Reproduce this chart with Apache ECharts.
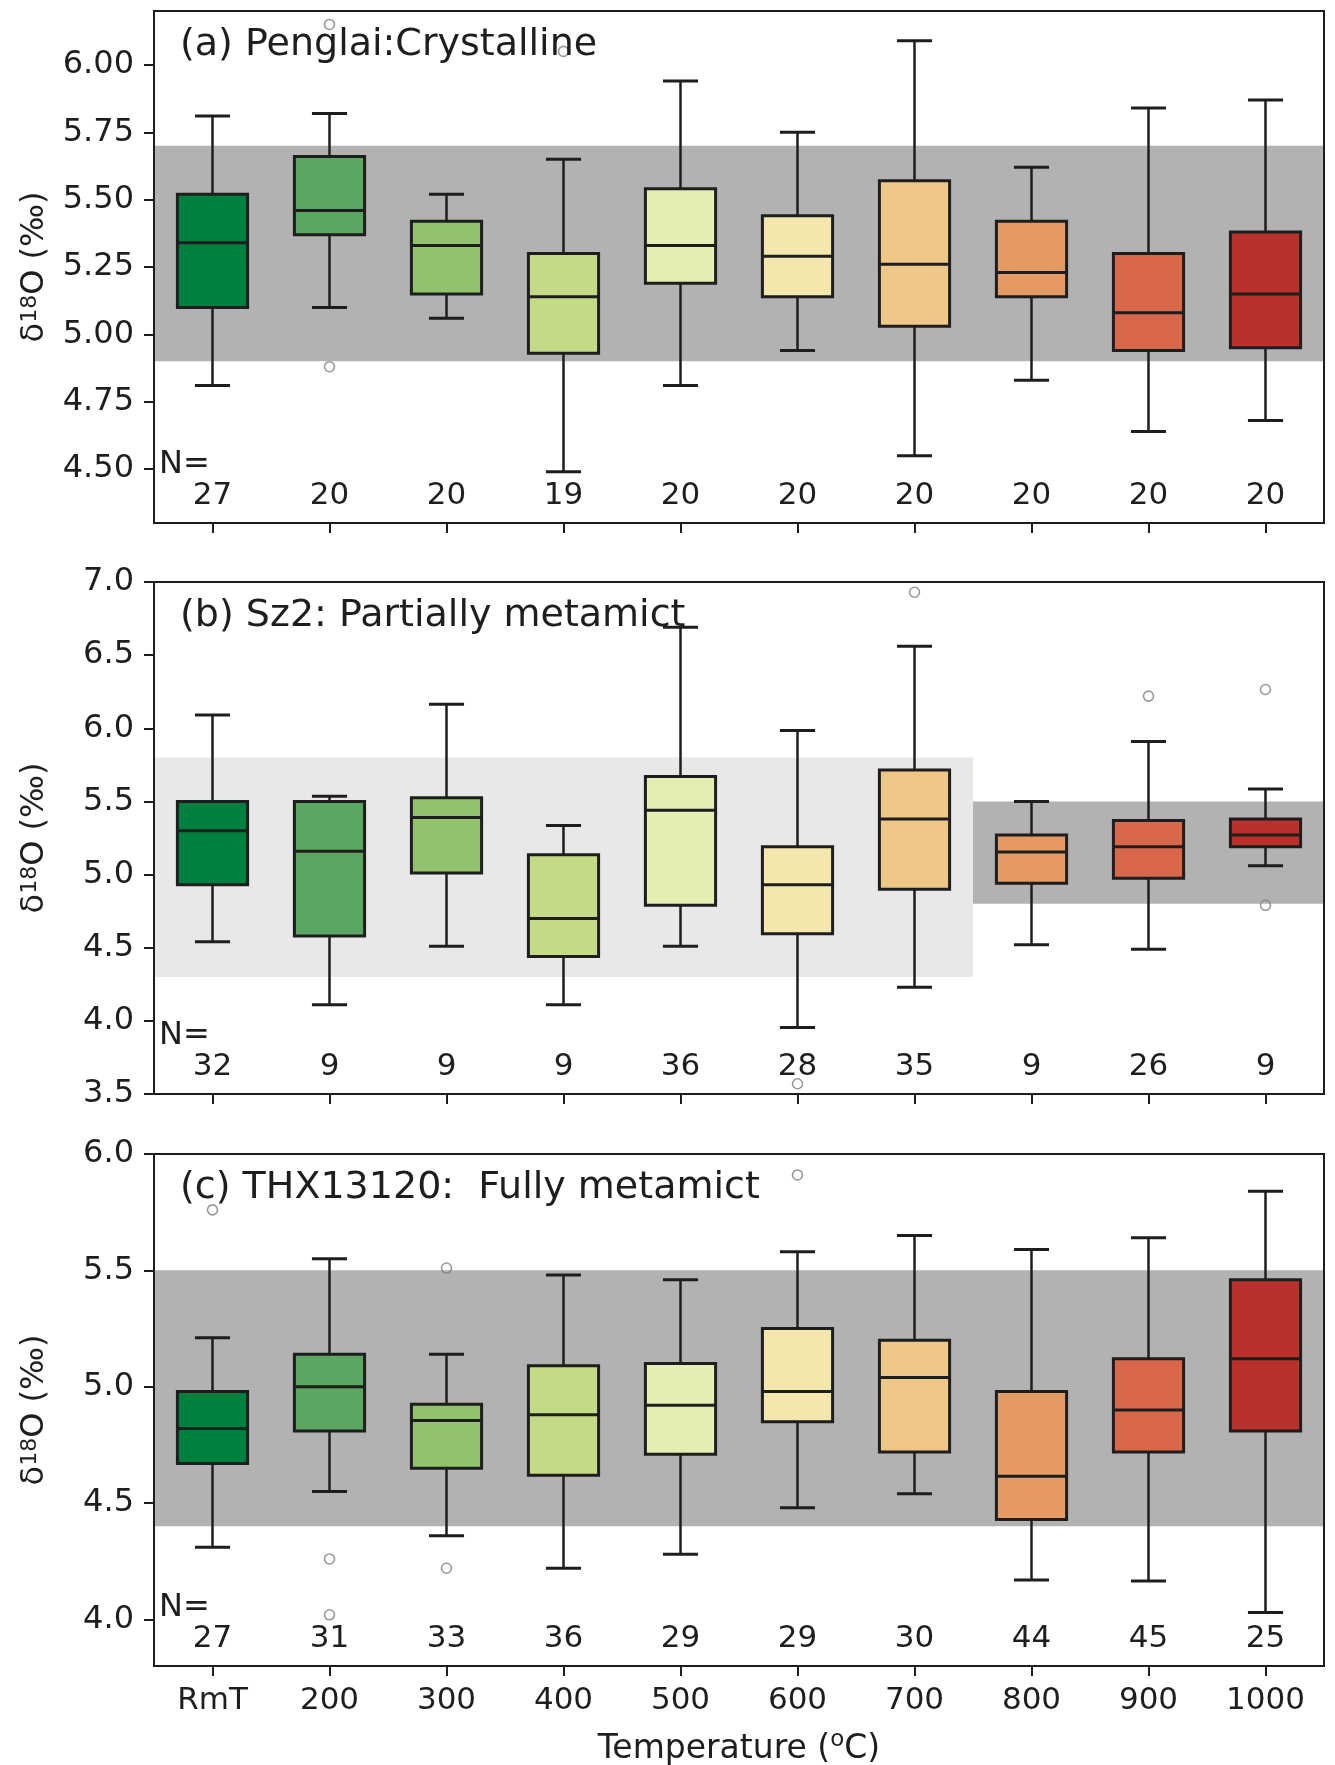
<!DOCTYPE html>
<html>
<head>
<meta charset="utf-8">
<script src="https://cdn.jsdelivr.net/npm/echarts@6/dist/echarts.min.js"></script>
<style>
  html, body { margin: 0; padding: 0; background: #fff; }
  #main { width: 1335px; height: 1765px; }
</style>
</head>
<body>
<div id="main"></div>
<script>
// categories along the x axis
const categories = ['RmT', '200', '300', '400', '500', '600', '700', '800', '900', '1000']

// box stats per category: [low whisker, q1, median, q3, high whisker]
const boxesA = [
  [4.81, 5.10, 5.34, 5.52, 5.81],
  [5.10, 5.37, 5.46, 5.66, 5.82],
  [5.06, 5.15, 5.33, 5.42, 5.52],
  [4.49, 4.93, 5.14, 5.30, 5.65],
  [4.81, 5.19, 5.33, 5.54, 5.94],
  [4.94, 5.14, 5.29, 5.44, 5.75],
  [4.55, 5.03, 5.26, 5.57, 6.09],
  [4.83, 5.14, 5.23, 5.42, 5.62],
  [4.64, 4.94, 5.08, 5.30, 5.84],
  [4.68, 4.95, 5.15, 5.38, 5.87],
]
const boxesB = [
  [4.54, 4.93, 5.30, 5.50, 6.09],
  [4.11, 4.58, 5.16, 5.50, 5.535],
  [4.51, 5.01, 5.39, 5.525, 6.165],
  [4.11, 4.44, 4.70, 5.135, 5.335],
  [4.51, 4.79, 5.44, 5.67, 6.69],
  [3.955, 4.595, 4.93, 5.19, 5.985],
  [4.23, 4.90, 5.38, 5.715, 6.56],
  [4.52, 4.94, 5.155, 5.27, 5.50],
  [4.49, 4.975, 5.19, 5.37, 5.91],
  [5.06, 5.19, 5.27, 5.38, 5.585],
]
const boxesC = [
  [4.31, 4.67, 4.82, 4.98, 5.21],
  [4.55, 4.81, 5.00, 5.14, 5.55],
  [4.36, 4.65, 4.855, 4.925, 5.14],
  [4.22, 4.62, 4.88, 5.09, 5.48],
  [4.28, 4.71, 4.92, 5.10, 5.46],
  [4.48, 4.85, 4.98, 5.25, 5.58],
  [4.54, 4.72, 5.04, 5.20, 5.65],
  [4.17, 4.43, 4.615, 4.98, 5.59],
  [4.165, 4.72, 4.90, 5.12, 5.64],
  [4.03, 4.81, 5.12, 5.46, 5.84],
]

// outliers: [category index, value]
const outliersA = [[1, 6.15], [1, 4.88], [3, 6.05]]
const outliersB = [[5, 3.57], [6, 6.93], [8, 6.22], [9, 6.265], [9, 4.79]]
const outliersC = [[0, 5.76], [1, 4.26], [1, 4.02], [2, 5.51], [2, 4.22], [5, 5.91]]

// sample counts
const countsA = [27, 20, 20, 19, 20, 20, 20, 20, 20, 20]
const countsB = [32, 9, 9, 9, 36, 28, 35, 9, 26, 9]
const countsC = [27, 31, 33, 36, 29, 29, 30, 44, 45, 25]

// reference bands: [first category, last category, low, high]
const bandsA = [[0, 9, 4.9, 5.7]]
const bandsB = [[0, 6, 4.3, 5.8], [7, 9, 4.8, 5.5]]
const bandsC = [[0, 9, 4.4, 5.5]]

// y tick values
const yTicksA = [4.5, 4.75, 5.0, 5.25, 5.5, 5.75, 6.0]
const yTicksB = [3.5, 4.0, 4.5, 5.0, 5.5, 6.0, 6.5, 7.0]
const yTicksC = [4.0, 4.5, 5.0, 5.5, 6.0]

const titles = ['(a) Penglai:Crystalline', '(b) Sz2: Partially metamict', '(c) THX13120:  Fully metamict']

const boxColors = ['#00803f', '#5ba660', '#91c36d', '#c3da87', '#e5eeb2',
                   '#f3e7ad', '#eec787', '#e59a62', '#d9684b', '#ba302b']

const FONT = 'DejaVu Sans'
const INK = '#1e1e1e'

const panels = [
  { boxes: boxesA, outliers: outliersA, counts: countsA, bands: bandsA, bandColors: ['#b2b2b2'],
    yMin: 4.3, yMax: 6.2, ticks: yTicksA, digits: 2, top: 11 },
  { boxes: boxesB, outliers: outliersB, counts: countsB, bands: bandsB, bandColors: ['#e8e8e8', '#b2b2b2'],
    yMin: 3.5, yMax: 7.0, ticks: yTicksB, digits: 1, top: 582 },
  { boxes: boxesC, outliers: outliersC, counts: countsC, bands: bandsC, bandColors: ['#b2b2b2'],
    yMin: 3.8, yMax: 6.0, ticks: yTicksC, digits: 1, top: 1154 },
]

const chart = echarts.init(document.getElementById('main'))

const grid = [], xAxis = [], yAxis = [], series = [], title = []

panels.forEach((p, i) => {
  const last = i === panels.length - 1
  grid.push({ left: 154, width: 1170, top: p.top, height: 512, show: true,
    outerBoundsMode: 'none', containLabel: false,
    borderColor: INK, borderWidth: 2, z: 10 })

  title.push({ text: titles[i], left: 180, top: p.top + 15, padding: 0,
    textStyle: { fontFamily: FONT, fontSize: 38, fontWeight: 'normal', color: INK } })

  xAxis.push({
    type: 'category', gridIndex: i, data: categories, z: 10,
    axisLine: { show: true, lineStyle: { color: INK, width: 2 } },
    axisTick: { show: true, alignWithLabel: true, length: 10, lineStyle: { color: INK, width: 2 } },
    axisLabel: { show: last, fontFamily: FONT, fontSize: 31, color: INK, margin: 19 },
    name: last ? 'Temperature ({s|o}C)' : '',
    nameLocation: 'middle', nameGap: 63,
    nameTextStyle: { fontFamily: FONT, fontSize: 33, color: INK,
      rich: { s: { fontFamily: FONT, fontSize: 23, padding: [0, 0, 18, 0], color: INK } } },
  })

  yAxis.push({
    type: 'value', gridIndex: i, min: p.yMin, max: p.yMax, z: 10,
    splitLine: { show: false },
    axisLine: { show: true, lineStyle: { color: INK, width: 2 } },
    axisTick: { show: true, length: 10, customValues: p.ticks, lineStyle: { color: INK, width: 2 } },
    axisLabel: { customValues: p.ticks, fontFamily: FONT, fontSize: 32, color: INK, margin: 20,
      formatter: (v) => v.toFixed(p.digits) },
    name: 'δ{s|18}O (‰)', nameLocation: 'middle', nameGap: 103,
    nameTextStyle: { fontFamily: FONT, fontSize: 32, color: INK,
      rich: { s: { fontFamily: FONT, fontSize: 22, verticalAlign: 'top', color: INK } } },
  })

  // reference bands
  series.push({
    type: 'custom', xAxisIndex: i, yAxisIndex: i, z: 1, silent: true,
    data: p.bands,
    renderItem: (params, api) => {
      const half = api.size([1, 0])[0] / 2
      const a = api.coord([api.value(0), api.value(3)])
      const b = api.coord([api.value(1), api.value(2)])
      return { type: 'rect',
        shape: { x: a[0] - half, y: a[1], width: b[0] - a[0] + 2 * half, height: b[1] - a[1] },
        style: { fill: p.bandColors[params.dataIndex] } }
    },
  })

  // boxes
  series.push({
    type: 'custom', xAxisIndex: i, yAxisIndex: i, z: 3,
    data: p.boxes.map((b, k) => [k, ...b]),
    encode: { x: 0, y: [1, 2, 3, 4, 5] },
    renderItem: (params, api) => {
      const k = api.value(0)
      const w = api.size([1, 0])[0] * 0.6
      const cap = w / 2
      const lo = api.coord([k, api.value(1)])
      const q1 = api.coord([k, api.value(2)])
      const md = api.coord([k, api.value(3)])
      const q3 = api.coord([k, api.value(4)])
      const hi = api.coord([k, api.value(5)])
      const x = lo[0]
      const line = (x1, y1, x2, y2, lw) => ({ type: 'line',
        shape: { x1, y1, x2, y2 }, style: { stroke: INK, lineWidth: lw } })
      return { type: 'group', children: [
        line(x, q1[1], x, lo[1], 2.5),
        line(x, q3[1], x, hi[1], 2.5),
        line(x - cap / 2, lo[1], x + cap / 2, lo[1], 3),
        line(x - cap / 2, hi[1], x + cap / 2, hi[1], 3),
        { type: 'rect', shape: { x: x - w / 2, y: q3[1], width: w, height: q1[1] - q3[1] },
          style: { fill: boxColors[k], stroke: INK, lineWidth: 3 } },
        line(x - w / 2, md[1], x + w / 2, md[1], 3),
      ] }
    },
  })

  // outliers
  series.push({
    type: 'scatter', xAxisIndex: i, yAxisIndex: i, z: 4,
    data: p.outliers, symbol: 'circle', symbolSize: 10,
    itemStyle: { color: 'rgba(0,0,0,0)', borderColor: '#808080', borderWidth: 1.6 },
  })

  // sample count labels
  series.push({
    type: 'custom', xAxisIndex: i, yAxisIndex: i, z: 5, silent: true,
    data: p.counts.map((n, k) => [k, n]),
    renderItem: (params, api) => {
      const cs = params.coordSys
      const pos = api.coord([api.value(0), p.yMin])
      const bottom = cs.y + cs.height
      const children = [{ type: 'text', x: pos[0], y: bottom - 27,
        style: { text: String(api.value(1)), fontFamily: FONT, fontSize: 31, fill: INK,
          align: 'center', verticalAlign: 'middle' } }]
      if (params.dataIndex === 0) {
        children.push({ type: 'text', x: cs.x + 5, y: bottom - 58,
          style: { text: 'N=', fontFamily: FONT, fontSize: 32, fill: INK,
            align: 'left', verticalAlign: 'middle' } })
      }
      return { type: 'group', children }
    },
  })
})

chart.setOption({ animation: false, title, grid, xAxis, yAxis, series })
</script>
</body>
</html>
